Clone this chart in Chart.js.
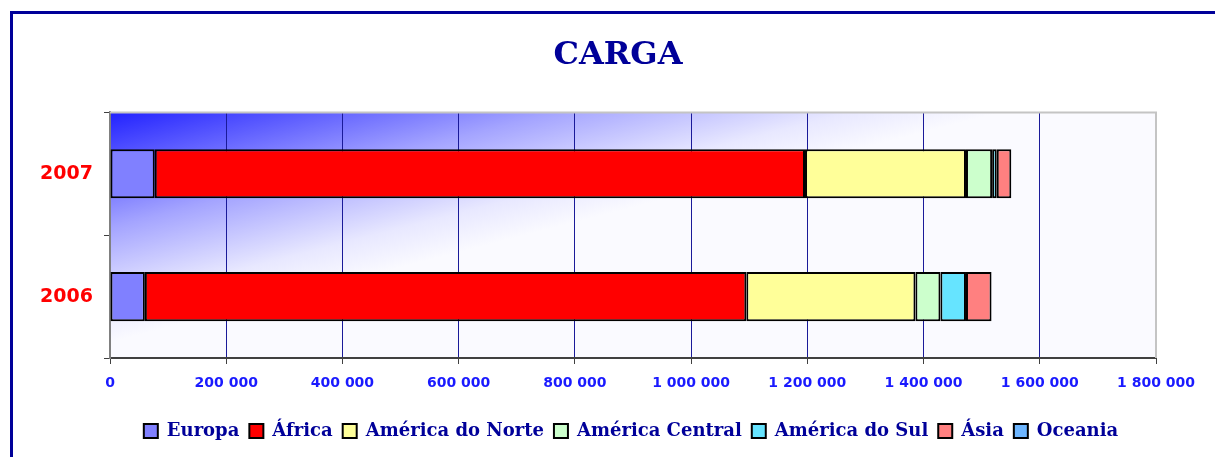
<!DOCTYPE html>
<html>
<head>
<meta charset="utf-8">
<script src="https://cdn.jsdelivr.net/npm/chart.js@4"></script>
<style>
  html, body { margin: 0; padding: 0; background: #ffffff; overflow: hidden; }
  #wrap { position: relative; width: 1215px; height: 457px; }
  #frame {
    position: absolute; left: 10px; top: 11px; width: 1300px; height: 600px;
    border-left: 3px solid #000099; border-top: 3px solid #000099;
    pointer-events: none;
  }
  canvas { position: absolute; left: 0; top: 0; }
</style>
</head>
<body>
<div id="wrap">
  <canvas id="cargaChart" width="1215" height="457"></canvas>
  <div id="frame"></div>
</div>
<script>
// dados
const anos = ['2007', '2006'];
const europa = [77000, 60000];
const africa = [1119000, 1035000];
const americaNorte = [277000, 291000];
const americaCentral = [45000, 43000];
const americaSul = [8000, 44000];
const asia = [25000, 44000];
const oceania = [0, 0];
const xTicks = [0, 200000, 400000, 600000, 800000, 1000000, 1200000, 1400000, 1600000, 1800000];

const serie = (label, data, cor) => ({
    label: label,
    data: data,
    backgroundColor: cor,
    borderColor: '#000000',
    borderWidth: 2,
    borderSkipped: false
});

// fundo em degradê da área do gráfico + borda cinza
const fundo = {
    id: 'fundo',
    afterLayout(chart) {
        // centraliza título e legenda como no original
        chart.titleBlock.left = 21;
        chart.titleBlock.right = 1215;
        chart.legend.left = 106;
        chart.legend.right = 1156;
    },
    beforeDraw(chart) {
        const a = chart.chartArea;
        const c = chart.ctx;
        const g = c.createLinearGradient(a.left, a.top, a.left + 55.7, a.top + 215.6);
        g.addColorStop(0, '#2222ff');
        g.addColorStop(0.5, '#a4a4ff');
        g.addColorStop(0.83, '#e8e8ff');
        g.addColorStop(1, '#fafaff');
        c.save();
        c.fillStyle = g;
        c.fillRect(a.left, a.top, a.right - a.left, a.bottom - a.top);
        c.restore();
    },
    afterDraw(chart) {
        const a = chart.chartArea;
        const c = chart.ctx;
        c.save();
        c.strokeStyle = '#c4c4c4';
        c.lineWidth = 2;
        c.beginPath();
        c.moveTo(a.left, a.top);
        c.lineTo(a.right, a.top);
        c.lineTo(a.right, a.bottom);
        c.stroke();
        c.restore();
    }
};

const ctx = document.getElementById('cargaChart').getContext('2d');

new Chart(ctx, {
    type: 'bar',
    data: {
        labels: anos,
        datasets: [
            serie('Europa', europa, '#8080ff'),
            serie('África', africa, '#ff0000'),
            serie('América do Norte', americaNorte, '#ffff99'),
            serie('América Central', americaCentral, '#ccffcc'),
            serie('América do Sul', americaSul, '#66e4ff'),
            serie('Ásia', asia, '#ff8080'),
            serie('Oceania', oceania, '#6eb6ff')
        ]
    },
    plugins: [fundo],
    options: {
        indexAxis: 'y',
        responsive: false,
        animation: false,
        devicePixelRatio: 1,
        barPercentage: 0.5,
        categoryPercentage: 0.8,
        layout: { padding: { left: 0, right: 59, top: 0, bottom: 7 } },
        plugins: {
            title: {
                display: true,
                text: 'CARGA',
                color: '#000099',
                font: { family: 'DejaVu Serif', size: 32, weight: 'bold' },
                padding: { top: 36, bottom: 38 }
            },
            legend: {
                position: 'bottom',
                labels: {
                    color: '#000099',
                    font: { family: 'DejaVu Serif', size: 18, weight: 'bold' },
                    boxWidth: 14,
                    boxHeight: 14,
                    padding: 10
                }
            },
            tooltip: { enabled: false }
        },
        scales: {
            x: {
                stacked: true,
                min: 0,
                max: 1800000,
                afterFit(scale) { scale.height = 54; },
                afterBuildTicks(scale) { scale.ticks = xTicks.map(v => ({ value: v })); },
                ticks: {
                    color: '#1a1aff',
                    padding: 11,
                    maxRotation: 0,
                    font: { family: 'DejaVu Sans', size: 14, weight: 'bold' },
                    callback: v => String(v).replace(/\B(?=(\d{3})+(?!\d))/g, ' ')
                },
                grid: {
                    color: c => (c.tick && c.tick.value === 1800000) ? '#c4c4c4' : '#1a1a99',
                    lineWidth: 1,
                    tickColor: '#404040',
                    tickLength: 6
                },
                border: { color: '#404040', width: 2 }
            },
            y: {
                stacked: true,
                afterFit(scale) { scale.width = 110; },
                ticks: {
                    color: '#ff0000',
                    padding: 11,
                    font: { family: 'DejaVu Sans', size: 19, weight: 'bold' }
                },
                grid: {
                    drawOnChartArea: false,
                    offset: true,
                    tickColor: '#404040',
                    tickLength: 6
                },
                border: { color: '#808080', width: 2 }
            }
        }
    }
});
</script>
</body>
</html>
